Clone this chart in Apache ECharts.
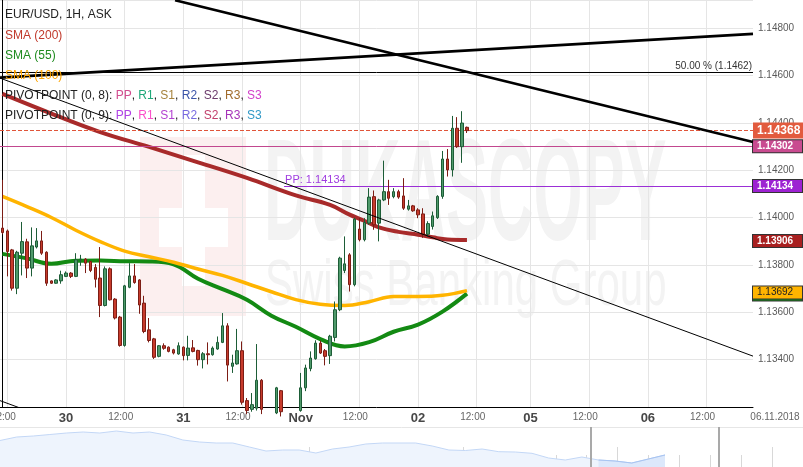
<!DOCTYPE html>
<html><head><meta charset="utf-8">
<script src="https://cdn.jsdelivr.net/npm/echarts@6/dist/echarts.min.js"></script>
<style>html,body{margin:0;padding:0;background:#fff}#c{width:803px;height:467px}</style>
</head><body><div id="c"></div>
<script>
const FONT = "'Liberation Sans', Arial, sans-serif";

// trading sessions: [date, first hour, last hour] (weekend skipped)
const sessions = [
  ['2018-10-29', 11, 23], ['2018-10-30', 0, 23], ['2018-10-31', 0, 23], ['2018-11-01', 0, 23],
  ['2018-11-02', 0, 20], ['2018-11-04', 22, 23], ['2018-11-05', 0, 23], ['2018-11-06', 0, 21]
];
const MONTHS = ['Jan','Feb','Mar','Apr','May','Jun','Jul','Aug','Sep','Oct','Nov','Dec'];

// hourly OHLC (EUR/USD, 1H, ASK)
const opens = [1.13956,1.13944,1.13864,1.13702,1.13850,1.13898,1.13787,1.13876,1.13902,1.13854,
  1.13733,1.13723,1.13733,1.13752,1.13766,1.13752,1.13822,1.13825,1.13815,1.13790,
  1.13745,1.13629,1.13784,1.13656,1.13580,1.13460,1.13706,1.13754,1.13737,1.13639,
  1.13526,1.13488,1.13414,1.13459,1.13453,1.13442,1.13424,1.13453,1.13418,1.13450,
  1.13439,1.13400,1.13425,1.13421,1.13445,1.13473,1.13543,1.13372,1.13382,1.13438,
  1.13227,1.13190,1.13195,1.13313,1.13190,1.13160,1.13175,1.13269,1.13180,1.13150,
  1.13165,1.13185,1.13281,1.13362,1.13404,1.13470,1.13438,1.13417,1.13494,1.13611,
  1.13777,1.13843,1.13717,1.13952,1.13907,1.13977,1.14089,1.13977,1.14075,1.14110,
  1.14089,1.14110,1.14092,1.14036,1.14050,1.14033,1.14016,1.13930,1.13963,1.14000,
  1.14090,1.14248,1.14202,1.14378,1.14300,1.14382];
const closes = [1.13937,1.13857,1.13702,1.13854,1.13899,1.13787,1.13881,1.13902,1.13850,1.13723,
  1.13723,1.13737,1.13759,1.13766,1.13752,1.13822,1.13825,1.13808,1.13777,1.13740,
  1.13629,1.13784,1.13653,1.13576,1.13460,1.13712,1.13754,1.13726,1.13631,1.13519,
  1.13481,1.13410,1.13459,1.13448,1.13435,1.13428,1.13459,1.13417,1.13449,1.13435,
  1.13400,1.13425,1.13421,1.13449,1.13473,1.13543,1.13377,1.13386,1.13438,1.13220,
  1.13185,1.13210,1.13313,1.13190,1.13160,1.13175,1.13281,1.13180,1.13150,1.13165,
  1.13185,1.13281,1.13365,1.13407,1.13470,1.13428,1.13414,1.13499,1.13611,1.13829,
  1.13805,1.13717,1.13994,1.13907,1.13980,1.14087,1.13970,1.14075,1.14110,1.14082,
  1.14110,1.14087,1.14040,1.14050,1.14029,1.14012,1.13930,1.13975,1.14008,1.14090,
  1.14248,1.14202,1.14378,1.14300,1.14400,1.14368];
const lows = [1.13930,1.13752,1.13692,1.13677,1.13756,1.13745,1.13752,1.13870,1.13843,1.13712,
  1.13720,1.13721,1.13721,1.13749,1.13745,1.13749,1.13797,1.13766,1.13770,1.13705,
  1.13580,1.13625,1.13650,1.13570,1.13455,1.13455,1.13702,1.13721,1.13594,1.13512,
  1.13473,1.13403,1.13410,1.13442,1.13431,1.13422,1.13421,1.13397,1.13397,1.13431,
  1.13375,1.13363,1.13380,1.13417,1.13442,1.13470,1.13308,1.13344,1.13379,1.13210,
  1.13170,1.13180,1.13185,1.13170,1.13140,1.13150,1.13170,1.13160,1.13130,1.13120,
  1.13150,1.13180,1.13267,1.13351,1.13400,1.13424,1.13376,1.13382,1.13477,1.13605,
  1.13766,1.13688,1.13710,1.13900,1.13900,1.13970,1.13949,1.13900,1.14070,1.14054,
  1.14082,1.14080,1.14033,1.14030,1.14025,1.13998,1.13915,1.13920,1.13950,1.13995,
  1.14080,1.14174,1.14174,1.14295,1.14232,1.14358];
const highs = [1.14160,1.13950,1.13868,1.13860,1.13982,1.13911,1.13959,1.13956,1.13944,1.13858,
  1.13735,1.13740,1.13776,1.13773,1.13770,1.13850,1.13843,1.13829,1.13818,1.13804,
  1.13876,1.13794,1.13790,1.13660,1.13585,1.13716,1.13808,1.13804,1.13740,1.13670,
  1.13576,1.13492,1.13462,1.13469,1.13456,1.13446,1.13473,1.13456,1.13501,1.13483,
  1.13442,1.13432,1.13473,1.13456,1.13498,1.13597,1.13554,1.13421,1.13530,1.13477,
  1.13238,1.13259,1.13466,1.13318,1.13198,1.13195,1.13285,1.13272,1.13195,1.13190,
  1.13198,1.13344,1.13379,1.13435,1.13482,1.13480,1.13445,1.13505,1.13646,1.13835,
  1.13921,1.13850,1.14000,1.13998,1.13998,1.14125,1.14115,1.14080,1.14241,1.14160,
  1.14125,1.14118,1.14167,1.14075,1.14054,1.14040,1.14040,1.13985,1.14026,1.14095,
  1.14282,1.14290,1.14430,1.14425,1.14450,1.14385];

// moving averages: [candle index, value]
const sma200 = [[0,1.14523],[10,1.14440],[20,1.14362],[30,1.14299],[40,1.14234],[50,1.14168],[60,1.14094],
  [67,1.14054],[71,1.14013],[74,1.13987],[77,1.13959],[81,1.13940],[85,1.13928],[88,1.13917],[91,1.13908],[95,1.13906]];
const sma100 = [[0,1.14090],[5,1.14047],[10,1.14001],[15,1.13947],[20,1.13899],[25,1.13859],[30,1.13835],
  [35,1.13812],[40,1.13783],[45,1.13756],[50,1.13722],[55,1.13687],[60,1.13654],[65,1.13634],[70,1.13629],
  [75,1.13645],[80,1.13667],[85,1.13667],[90,1.13672],[95,1.13692]];
const sma55 = [[0,1.13847],[5,1.13828],[10,1.13805],[15,1.13818],[20,1.13819],[25,1.13816],[30,1.13815],
  [35,1.13803],[40,1.13742],[45,1.13698],[50,1.13653],[55,1.13586],[60,1.13539],[65,1.13487],[70,1.13456],
  [75,1.13474],[80,1.13518],[85,1.13548],[90,1.13603],[95,1.13679]];

// drawn trend lines: [hour position, price]
const trendThickDown = [[35.3,1.14919],[153.5,1.14320]];
const trendThickUp = [[-0.5,1.14592],[153.5,1.14777]];
const trendThinDown = [[-0.5,1.14590],[153.5,1.13415]];
const trendThinLow = [[-0.5,1.13227],[10,1.13147]];

// levels
const lastPrice = 1.14368;
const pivotLevel = 1.14302;
const pivotPP = 1.14134;
const ppStart = 57.6;
const fib50 = 1.14614;
const fib50Label = '50.00 % (1.1462)';
const sma200Last = 1.13906, sma100Last = 1.13692, sma55Last = 1.13692;
const yTicks = {min: 1.132, max: 1.1492, interval: 0.002};
const dateLabel = '06.11.2018';

// navigator overview (relative heights, fixed step)
const navHeights = [26.5,30,31,32.5,34,35,34,36,34,35,32,27,25,24,24,20,16,17,17,14,18,20,23,24,24,24,21,17,16.5,18,15.3,15,13.7,9,7,10,7,6,4,8,12];
const navSelStart = 36;
const navWindow = [35.55, 43.25];

const categories = [];
sessions.forEach(([d, a, b]) => { for (let h = a; h <= b; h++) categories.push(d + ' ' + String(h).padStart(2,'0') + ':00'); });

function isLabel(v) { const t = v.split(' ')[1]; return t === '00:00' || t === '12:00'; }
function fmt(v) {
  const [d, t] = v.split(' ');
  if (t === '00:00') { const day = +d.slice(8); return '{d|' + (day === 1 ? MONTHS[+d.slice(5,7)-1] : d.slice(8)) + '}'; }
  return '{t|' + t + '}';
}
function tag(value, bg, color, opts) {
  return {
    yAxis: value,
    lineStyle: {color: 'rgba(0,0,0,0)', width: 0},
    label: Object.assign({
      show: true, position: 'end', distance: 0, formatter: value.toFixed(5), opacity: 1,
      backgroundColor: bg, color: color, fontWeight: 'bold', fontSize: 10, fontFamily: FONT,
      borderColor: '#333', borderWidth: 1, padding: [1, 2, 0, 4], width: 43, lineHeight: 11
    }, opts || {})
  };
}
const ML = {silent: true, symbol: ['none','none'], animation: false, precision: 6};

const chart = echarts.init(document.getElementById('c'));
chart.setOption({
  animation: false,
  backgroundColor: '#fff',
  textStyle: {fontFamily: FONT},
  grid: [
    {left: 0, top: 0, width: 753, height: 407, outerBoundsMode: 'none', containLabel: false},
    {left: 0, top: 427, width: 803, height: 40, outerBoundsMode: 'none', containLabel: false}
  ],
  xAxis: [
    {type: 'category', gridIndex: 0, data: categories, boundaryGap: true,
      axisLine: {show: true, onZero: false, lineStyle: {color: '#000', width: 1}},
      axisTick: {show: false},
      axisLabel: {interval: (i, v) => isLabel(v), formatter: fmt, margin: 5,
        rich: {d: {fontSize: 13, fontWeight: 'bold', color: '#474747', fontFamily: FONT},
               t: {fontSize: 10, color: '#666', fontFamily: FONT, padding: [0, 8, 0, 0]}}},
      splitLine: {show: true, interval: (i, v) => isLabel(v), alignWithLabel: true, lineStyle: {color: '#e5e5e5'}}},
    {type: 'value', gridIndex: 0, min: -0.5, max: 153.5, show: false},
    {type: 'value', gridIndex: 1, min: 0, max: 48.3, interval: 9.2875,
      axisLine: {show: false}, axisLabel: {show: false}, splitLine: {show: false},
      axisTick: {show: true, inside: true, length: 20, lineStyle: {color: '#d8d8d8'}},
      minorTick: {show: true, splitNumber: 5, length: 12, lineStyle: {color: '#d8d8d8'}}},
    {type: 'value', gridIndex: 1, position: 'top', min: 0, max: 48.3,
      axisLine: {show: true, lineStyle: {color: '#e6e6e6'}}, axisTick: {show: false}, axisLabel: {show: false}, splitLine: {show: false}}
  ],
  yAxis: [
    {type: 'value', gridIndex: 0, position: 'right', min: yTicks.min, max: yTicks.max, interval: yTicks.interval,
      axisLine: {show: true, lineStyle: {color: '#000'}}, axisTick: {show: false},
      axisLabel: {formatter: v => v.toFixed(5), color: '#5a5a5a', fontSize: 10, margin: 5, showMinLabel: false, showMaxLabel: false},
      splitLine: {show: true, lineStyle: {color: '#e5e5e5'}}},
    {type: 'value', gridIndex: 1, min: 0, max: 40, show: false}
  ],
  graphic: [
    {type: 'rect', z: -10, shape: {x: 140, y: 137, width: 106, height: 179}, style: {fill: '#fcefef'}},
    {type: 'rect', z: -9, shape: {x: 182, y: 155, width: 23, height: 131}, style: {fill: '#fff'}},
    {type: 'rect', z: -9, shape: {x: 159, y: 208, width: 69, height: 39}, style: {fill: '#fff'}},
    {type: 'text', z: -9, x: 264, y: 128, scaleX: 0.63, scaleY: 1.45,
      style: {text: 'DUKASCOPY', font: 'bold 100px ' + FONT, fill: '#f3f3f3', verticalAlign: 'top'}},
    {type: 'text', z: -9, x: 265, y: 255, scaleX: 0.42, scaleY: 0.64,
      style: {text: 'Swiss Banking Group', font: '100px ' + FONT, fill: '#f3f3f3', verticalAlign: 'top'}},
    {type: 'text', z: 20, x: 5, y: 15, style: {text: 'EUR/USD, 1H, ASK', font: '12px ' + FONT, fill: '#222', verticalAlign: 'middle'}},
    {type: 'text', z: 20, x: 5, y: 36, style: {text: 'SMA (200)', font: '12px ' + FONT, fill: '#c0392b', verticalAlign: 'middle'}},
    {type: 'text', z: 20, x: 5, y: 56, style: {text: 'SMA (55)', font: '12px ' + FONT, fill: '#1f8b1f', verticalAlign: 'middle'}},
    {type: 'text', z: 20, x: 5, y: 76, style: {text: 'SMA (100)', font: '12px ' + FONT, fill: '#ffa500', verticalAlign: 'middle'}},
    {type: 'text', z: 20, x: 5, y: 96, style: {
      text: 'PIVOTPOINT (0, 8): {a|PP}, {b|R1}, {c|S1}, {d|R2}, {e|S2}, {f|R3}, {g|S3}',
      font: '12px ' + FONT, fill: '#222', verticalAlign: 'middle',
      rich: {a: {fill: '#d24c8f', font: '12px ' + FONT}, b: {fill: '#1ea779', font: '12px ' + FONT}, c: {fill: '#a5823c', font: '12px ' + FONT},
             d: {fill: '#3b54a8', font: '12px ' + FONT}, e: {fill: '#6b3a6b', font: '12px ' + FONT}, f: {fill: '#a06b2b', font: '12px ' + FONT},
             g: {fill: '#d13fc9', font: '12px ' + FONT}}}},
    {type: 'text', z: 20, x: 5, y: 116, style: {
      text: 'PIVOTPOINT (0, 9): {a|PP}, {b|R1}, {c|S1}, {d|R2}, {e|S2}, {f|R3}, {g|S3}',
      font: '12px ' + FONT, fill: '#222', verticalAlign: 'middle',
      rich: {a: {fill: '#b042e6', font: '12px ' + FONT}, b: {fill: '#fb4fc9', font: '12px ' + FONT}, c: {fill: '#b23fd1', font: '12px ' + FONT},
             d: {fill: '#786be0', font: '12px ' + FONT}, e: {fill: '#c23f6b', font: '12px ' + FONT}, f: {fill: '#a532b8', font: '12px ' + FONT},
             g: {fill: '#2f98c6', font: '12px ' + FONT}}}},
    {type: 'text', z: 20, x: 775, y: 417, style: {text: dateLabel, font: '10px ' + FONT, fill: '#666', align: 'center', verticalAlign: 'middle'}}
  ],
  series: [
    {type: 'line', name: 'SMA (55)', xAxisIndex: 0, yAxisIndex: 0, data: sma55, smooth: 0.4,
      symbol: 'none', lineStyle: {color: '#138a13', width: 4}, z: 3,
      markLine: Object.assign({}, ML, {data: [tag(sma55Last, '#138a13', '#fff', {offset: [0, 4]})]})},
    {type: 'line', name: 'SMA (100)', xAxisIndex: 0, yAxisIndex: 0, data: sma100, smooth: 0.4,
      symbol: 'none', lineStyle: {color: '#ffb400', width: 3.5}, z: 3,
      markLine: Object.assign({}, ML, {data: [tag(sma100Last, '#ffb400', '#222', {offset: [0, 2], fontWeight: 'normal'})]})},
    {type: 'line', name: 'SMA (200)', xAxisIndex: 0, yAxisIndex: 0, data: sma200, smooth: 0.4,
      symbol: 'none', lineStyle: {color: '#a82a2a', width: 4}, z: 3,
      markLine: Object.assign({}, ML, {data: [tag(sma200Last, '#a82020', '#fff', {offset: [0, 1]})]})},
    {type: 'candlestick', name: 'EUR/USD', xAxisIndex: 0, yAxisIndex: 0, z: 5,
      data: opens.map((o, i) => [o, closes[i], lows[i], highs[i]]),
      barWidth: 3,
      itemStyle: {color: '#4f9a6b', color0: '#c73b2c', borderColor: '#1d5d37', borderColor0: '#7c1d15', borderWidth: 1},
      markLine: Object.assign({}, ML, {
        data: [
          {yAxis: pivotLevel, lineStyle: {color: '#c2478f', width: 1, type: 'solid'}, label: {show: false}},
          tag(pivotLevel, '#c94b90', '#fff'),
          {yAxis: lastPrice, lineStyle: {color: '#e0553a', width: 1, type: [4, 2]}, label: {show: false}},
          tag(lastPrice, '#e25b3e', '#fff', {fontSize: 12, borderWidth: 0, lineHeight: 15, padding: [1, 2, 0, 4], width: 44})
        ]})},
    {type: 'line', name: 'trend1', xAxisIndex: 1, yAxisIndex: 0, data: trendThickDown, symbol: 'none',
      lineStyle: {color: '#000', width: 2.6}, z: 6},
    {type: 'line', name: 'trend2', xAxisIndex: 1, yAxisIndex: 0, data: trendThickUp, symbol: 'none',
      lineStyle: {color: '#000', width: 2.6}, z: 6},
    {type: 'line', name: 'trend3', xAxisIndex: 1, yAxisIndex: 0, data: trendThinLow, symbol: 'none',
      lineStyle: {color: '#000', width: 1}, z: 6},
    {type: 'line', name: 'trend4', xAxisIndex: 1, yAxisIndex: 0, data: trendThinDown, symbol: 'none',
      lineStyle: {color: '#000', width: 1}, z: 6,
      markLine: Object.assign({}, ML, {
        data: [
          {yAxis: fib50, lineStyle: {color: '#000', width: 1, type: 'solid'},
            label: {show: true, position: 'insideEndTop', distance: 1, formatter: fib50Label, color: '#333', fontSize: 10, fontFamily: FONT}},
          [{coord: [ppStart, pivotPP], lineStyle: {color: '#9b2fd6', width: 1, type: 'solid'},
            label: {show: true, position: 'insideStartTop', distance: 1, formatter: 'PP: ' + pivotPP.toFixed(5), color: '#a03de0', fontSize: 11, fontFamily: FONT}},
           {coord: [153.5, pivotPP]}],
          tag(pivotPP, '#9d22d2', '#fff')
        ]})},
    {type: 'line', name: 'nav', xAxisIndex: 2, yAxisIndex: 1, data: navHeights.map((h, k) => [k, h]), symbol: 'none',
      lineStyle: {color: '#c3d7f6', width: 1}, areaStyle: {color: '#eef4fd', opacity: 1}, z: 1,
      markLine: Object.assign({}, ML, {label: {show: false},
        lineStyle: {color: '#a9a9a9', width: 2, type: 'solid'},
        data: navWindow.map(v => ({xAxis: v}))})},
    {type: 'line', name: 'navSel', xAxisIndex: 2, yAxisIndex: 1,
      data: navHeights.map((h, k) => [k, h]).slice(navSelStart), symbol: 'none',
      lineStyle: {color: '#a8c4f1', width: 1}, areaStyle: {color: '#dce8fb', opacity: 1}, z: 1}
  ]
});
</script></body></html>
